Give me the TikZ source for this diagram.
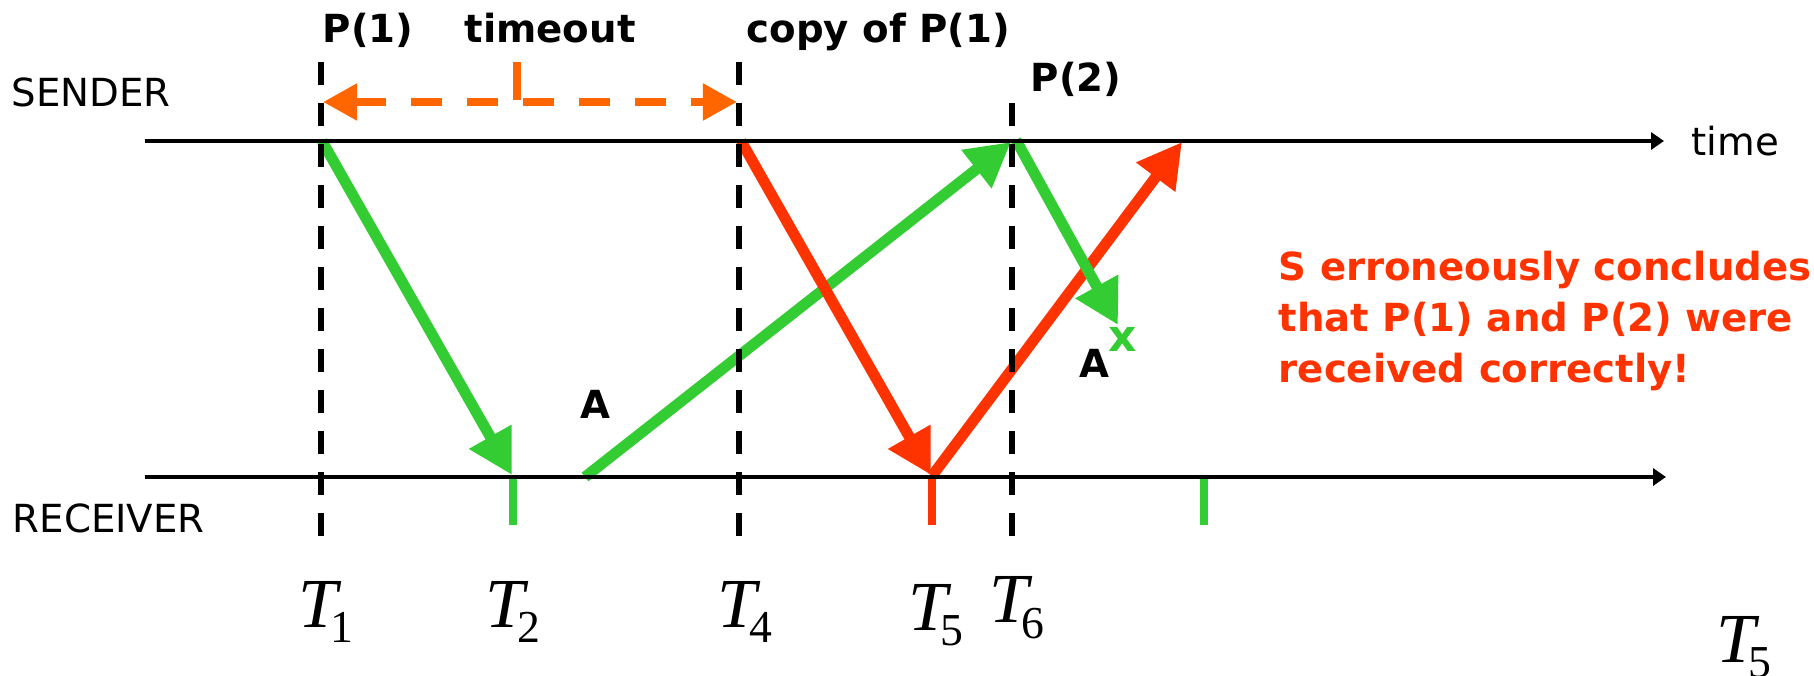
\documentclass[tikz,border=0pt]{standalone}
\usepackage{fontspec}
\setmainfont{DejaVu Sans}
\newfontfamily\timesfont{Liberation Serif}
\usepackage{tikz}
\usetikzlibrary{%
  arrows.meta,
  positioning}
\definecolor{ackgreen}{HTML}{33CC33}
\definecolor{pktred}{HTML}{FF3300}
\definecolor{toorange}{HTML}{FF6600}
\tikzset{
  %% Time axes
  axis/.style={line width=1.2pt, black,
    -{Triangle[length=0.13cm,width=0.17cm]}},
  %% Vertical instant markers
  vmark/.style={line width=1.6pt, black,
    dash pattern=on 0.23cm off 0.18cm},
  %% Packet / ack arrows
  garrow/.style={line width=3.1pt, ackgreen,
    -{Triangle[length=0.44cm,width=0.46cm]}},
  rarrow/.style={line width=3.1pt, pktred,
    -{Triangle[length=0.44cm,width=0.46cm]}},
  oarrow/.style={line width=2.3pt, toorange,
    dash pattern=on 0.31cm off 0.25cm,
    {Triangle[length=0.34cm,width=0.35cm]}-{Triangle[length=0.34cm,width=0.35cm]}},
  %% Short ticks
  rtick/.style={line width=2.2pt},
  %% Labels
  lbl/.style={font=\fontsize{11}{13}\selectfont, inner sep=0pt},
  blbl/.style={font=\fontsize{11}{13}\selectfont\bfseries, inner sep=0pt},
  tlbl/.style={font=\timesfont\fontsize{20}{23}\selectfont,
    inner sep=0pt, anchor=base west},
}
\newcommand\tname[1]{\textit{T}\kern-0.17em\raisebox{-0.15cm}{\fontsize{13}{15}\selectfont #1}}

\begin{document}
\begin{tikzpicture}[x=0.01cm, y=-0.01cm]
  \useasboundingbox (0,0) rectangle (1814,676);

  %% Axis end points
  \coordinate (snd0) at (145,141);
  \coordinate (sndE) at (1664,141);
  \coordinate (rcv0) at (145,477);
  \coordinate (rcvE) at (1666,477);

  %% Arrow end points
  \coordinate (p1s) at (322,141);
  \coordinate (p1r) at (512,475);
  \coordinate (a1r) at (585,477);
  \coordinate (a1s) at (1011,142);
  \coordinate (c1s) at (741,141);
  \coordinate (c1r) at (931,475);
  \coordinate (a2r) at (932,476);
  \coordinate (a2s) at (1182,142);
  \coordinate (p2s) at (1016,140);
  \coordinate (p2x) at (1118,325);

  %% Tick ends
  \coordinate (gt1a) at (513,477);  \coordinate (gt1b) at (513,525);
  \coordinate (rt1a) at (932,477);  \coordinate (rt1b) at (932,525);
  \coordinate (gt2a) at (1204,477); \coordinate (gt2b) at (1204,525);
  \coordinate (ota) at (517,62);    \coordinate (otb) at (517,100);
  \coordinate (oa) at (323,102);    \coordinate (ob) at (737,102);

  %% Vertical marker ends
  \coordinate (v1a) at (321,62);   \coordinate (v1b) at (321,540);
  \coordinate (v4a) at (739,62);   \coordinate (v4b) at (739,540);
  \coordinate (v6a) at (1012,103); \coordinate (v6b) at (1012,540);

  \draw[garrow] (p1s) -- (p1r);
  \draw[garrow] (a1r) -- (a1s);
  \draw[rarrow] (c1s) -- (c1r);
  \draw[rarrow] (a2r) -- (a2s);
  \draw[garrow] (p2s) -- (p2x);

  \draw[rtick, ackgreen] (gt1a) -- (gt1b);
  \draw[rtick, pktred] (rt1a) -- (rt1b);
  \draw[rtick, ackgreen] (gt2a) -- (gt2b);

  \draw[axis] (snd0) -- (sndE);
  \draw[axis] (rcv0) -- (rcvE);

  \draw[vmark] (v1a) -- (v1b);
  \draw[vmark] (v4a) -- (v4b);
  \draw[vmark] (v6a) -- (v6b);

  %% Timeout interval
  \draw[oarrow] (oa) -- (ob);
  \draw[rtick, toorange] (ota) -- (otb);

  %% Axis labels
  \node[lbl, anchor=base west] (sndlbl) at (11,107) {SENDER};
  \node[lbl, anchor=base west] (rcvlbl) at (12,532) {RECEIVER};
  \node[lbl, right=0.27cm of sndE] (timelbl) {time};

  %% Event labels
  \node[blbl, anchor=base west] (p1lbl) at (322,43) {P(1)};
  \node[blbl, anchor=base west] (tolbl) at (464,43) {timeout};
  \node[blbl, anchor=base west] (cplbl) at (746,43) {copy of P(1)};
  \node[blbl, anchor=base west] (p2lbl) at (1030,92) {P(2)};
  \node[blbl, anchor=base west] (alblA) at (580,419) {A};
  \node[blbl, anchor=base west] (alblB) at (1079,377) {A};
  \node[blbl, anchor=base west, ackgreen, font=\fontsize{12.5}{14}\selectfont\bfseries]
        (losslbl) at (1108,352) {x};

  %% Conclusion
  \node[blbl, pktred, anchor=north west, align=left,
        font=\fontsize{11}{14.6}\selectfont\bfseries] (note) at (1278,250)
        {S erroneously concludes\\ that P(1) and P(2) were\\ received correctly!};

  %% Instants
  \node[tlbl] (t1) at (298,627) {\tname{1}};
  \node[tlbl] (t2) at (485,627) {\tname{2}};
  \node[tlbl] (t4) at (717,627) {\tname{4}};
  \node[tlbl] (t5) at (908,630) {\tname{5}};
  \node[tlbl] (t6) at (989,623) {\tname{6}};
  \node[tlbl] (t5b) at (1716,662) {\tname{5}};
\end{tikzpicture}
\end{document}
